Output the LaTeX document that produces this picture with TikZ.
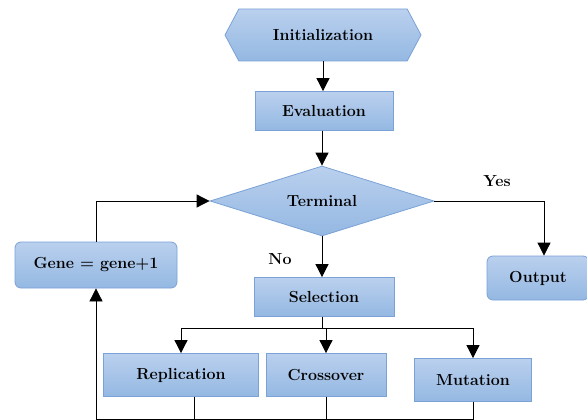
\documentclass[tikz,border=0pt]{standalone}
\usepackage{fontspec}
\usepackage{tikz}
\usetikzlibrary{shapes.geometric,shapes.symbols,arrows.meta}
\definecolor{boxtop}{RGB}{186,208,238}
\definecolor{boxbot}{RGB}{148,184,226}
\definecolor{boxline}{RGB}{122,162,214}
\tikzset{
  box/.style={draw=boxline, top color=boxtop, bottom color=boxbot, thick,
    font=\fontsize{16}{18}\selectfont\bfseries, inner sep=0pt},
  stepbox/.style={box, rectangle},
  roundbox/.style={box, rectangle, rounded corners=6pt},
  arr/.style={-{Triangle[width=13pt,length=13pt]}},
  lbl/.style={font=\fontsize{16}{18}\selectfont\bfseries}
}

\begin{document}
\begin{tikzpicture}[x=1pt,y=-1pt,line width=0.8pt]
    \useasboundingbox (0,0) rectangle (587,420);

    \coordinate (I) at (323, 35);
    \coordinate (E) at (324, 111);
    \coordinate (T) at (322, 201);
    \coordinate (G) at (96, 265);
    \coordinate (O) at (538, 278);
    \coordinate (S) at (324, 297);
    \coordinate (R) at (181, 375);
    \coordinate (C) at (326, 375);
    \coordinate (M) at (473, 380);

    \coordinate (split) at (322, 328);
    \coordinate (yesturn) at (544, 201);
    \coordinate (upturn) at (96, 201);
    \coordinate (loop) at (96, 419);

%nodes
    \node[box, signal, signal to=west and east, signal pointer angle=124,
          minimum width=196pt, minimum height=52pt] (init) at (I) {Initialization};
    \node[stepbox, minimum width=138pt, minimum height=39pt] (eval) at (E) {Evaluation};
    \node[box, diamond, aspect=3.2, minimum width=224pt, minimum height=70pt] (term) at (T) {Terminal};
    \node[roundbox, minimum width=162pt, minimum height=46pt] (gene) at (G) {Gene = gene+1};
    \node[roundbox, minimum width=102pt, minimum height=44pt] (out) at (O) {Output};
    \node[stepbox, minimum width=140pt, minimum height=39pt] (sel) at (S) {Selection};
    \node[stepbox, minimum width=155pt, minimum height=43pt] (rep) at (R) {Replication};
    \node[stepbox, minimum width=120pt, minimum height=43pt] (cro) at (C) {Crossover};
    \node[stepbox, minimum width=117pt, minimum height=43pt] (mut) at (M) {Mutation};

%connectors
    \draw[arr] (init.south -| I) -- (eval.north -| I);
    \draw[arr] (eval.south -| T) -- (term.north);
    \draw[arr] (term.east) -- (yesturn) -- (out.north -| yesturn);
    \draw[arr] (term.south) -- (sel.north -| T);
    \draw (sel.south -| split) -- (split);
    \draw[arr] (split) -| (rep);
    \draw[arr] (split) -- (cro.north |- split) -- (cro);
    \draw[arr] (split) -| (mut);

    \draw (mut.south) |- (loop);
    \draw (cro.south) -- (cro.south |- loop);
    \draw ([xshift=13pt]rep.south) -- ([xshift=13pt]rep.south |- loop);
    \draw[arr] (loop) -- (gene.south);
    \draw[arr] (gene.north) -- (upturn) -- (term.west);

%labels
    \node[lbl] (yes) at (497, 181) {Yes};
    \node[lbl] (no) at (280, 259) {No};
\end{tikzpicture}
\end{document}
